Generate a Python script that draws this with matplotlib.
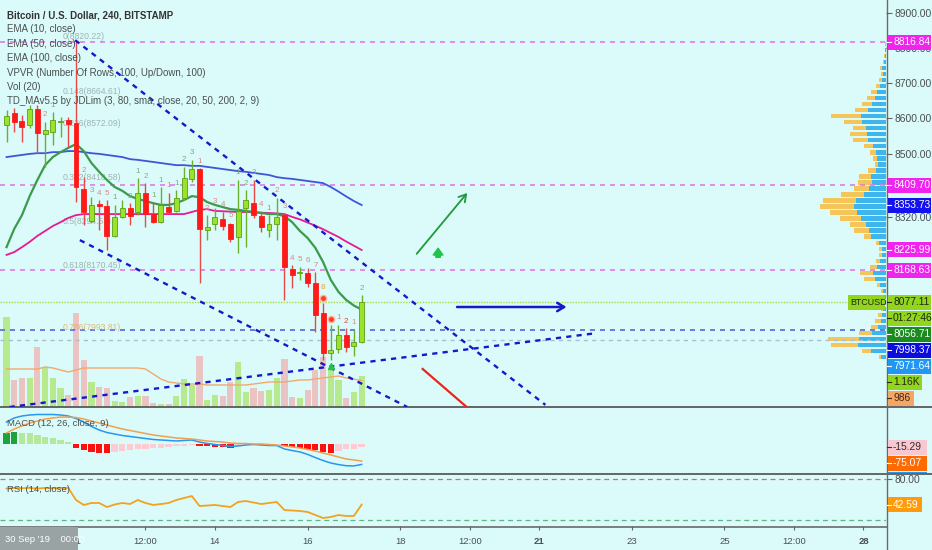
import numpy as np
import matplotlib
matplotlib.use('Agg')
import matplotlib.pyplot as plt
from matplotlib.patches import Rectangle
from matplotlib.lines import Line2D
from matplotlib import font_manager as fm
from matplotlib.transforms import offset_copy

# ---------------- data ----------------
bar_index = list(range(-9, 38))   # 4h bars, 0 = 11 Oct 00:00
opens = [8581, 8615, 8592, 8581, 8626, 8555, 8561, 8590, 8595, 8587,
         8399, 8308, 8356, 8351, 8266, 8320, 8345, 8334, 8388, 8328,
         8305, 8348, 8336, 8374, 8428, 8456, 8283, 8300, 8314, 8300,
         8263, 8345, 8359, 8322, 8283, 8300, 8325, 8172, 8161, 8161,
         8132, 8047, 7933, 7945, 7984, 7953, 7965]
highs = [8624, 8629, 8609, 8638, 8638, 8590, 8618, 8604, 8604, 8820,
         8433, 8376, 8368, 8368, 8354, 8368, 8359, 8430, 8416, 8362,
         8405, 8388, 8396, 8462, 8482, 8458, 8325, 8345, 8334, 8303,
         8425, 8396, 8425, 8334, 8325, 8374, 8331, 8183, 8178, 8175,
         8163, 8075, 8013, 8013, 8004, 7999, 8098]
lows = [8533, 8561, 8533, 8573, 8501, 8462, 8524, 8547, 8519, 8362,
        8297, 8303, 8283, 8226, 8263, 8317, 8297, 8325, 8291, 8303,
        8303, 8331, 8334, 8368, 8419, 8132, 8254, 8283, 8283, 8249,
        8217, 8234, 8317, 8277, 8263, 8254, 8084, 8118, 8141, 8121,
        7993, 7913, 7913, 7933, 7936, 7925, 7962]
closes = [8607, 8590, 8575, 8626, 8558, 8567, 8595, 8591, 8584, 8405,
          8334, 8354, 8352, 8266, 8320, 8345, 8322, 8388, 8328, 8305,
          8354, 8334, 8374, 8430, 8456, 8286, 8291, 8320, 8294, 8257,
          8337, 8368, 8325, 8291, 8300, 8320, 8178, 8155, 8162, 8132,
          8041, 7933, 7942, 7984, 7950, 7965, 8077.11]
volumes = [3366, 1010, 1085, 1085, 2244, 1496, 1085, 711, 449, 3516,
           1758, 935, 748, 711, 224, 187, 374, 411, 411, 150,
           112, 112, 411, 1047, 823, 1907, 262, 449, 411, 935,
           1683, 561, 711, 598, 636, 1085, 1795, 374, 337, 636,
           1384, 1870, 1459, 1010, 337, 561, 1160]
vol_ma = [1421, 1421, 1421, 1421, 1421, 1496, 1459, 1384, 1309, 1384,
          1459, 1459, 1459, 1459, 1459, 1459, 1459, 1459, 1421, 1234,
          1047, 935, 898, 860, 860, 860, 823, 823, 823, 823,
          823, 823, 860, 898, 935, 935, 935, 972, 1010, 1010,
          1047, 1085, 1122, 1159, 1085, 1040, 986]
ema10 = [8234, 8286, 8325, 8379, 8425, 8467, 8490, 8504, 8516, 8527,
         8507, 8473, 8448, 8425, 8405, 8394, 8379, 8371, 8365, 8359,
         8354, 8354, 8359, 8368, 8379, 8376, 8362, 8354, 8348, 8342,
         8340, 8337, 8334, 8331, 8328, 8328, 8322, 8305, 8280, 8260,
         8232, 8192, 8141, 8107, 8084, 8068, 8056.71]
ema50 = [8212, 8220, 8234, 8249, 8266, 8280, 8294, 8305, 8317, 8325,
         8328, 8328, 8328, 8328, 8328, 8328, 8328, 8328, 8328, 8328,
         8328, 8328, 8328, 8328, 8334, 8340, 8342, 8337, 8336, 8335,
         8334, 8334, 8333, 8332, 8331, 8330, 8328, 8320, 8313, 8304,
         8295, 8285, 8274, 8263, 8250, 8238, 8225.99]
ema100 = [8490, 8493, 8496, 8499, 8501, 8501, 8504, 8504, 8507, 8507,
          8504, 8501, 8499, 8496, 8493, 8490, 8484, 8482, 8479, 8476,
          8473, 8470, 8467, 8467, 8465, 8465, 8462, 8459, 8456, 8453,
          8450, 8448, 8445, 8442, 8439, 8433, 8430, 8428, 8425, 8422,
          8419, 8416, 8405, 8392, 8378, 8365, 8353.73]
macd_line = [97.2, 115, 123.8, 128.2, 130.4, 130.4, 130.4, 128.2, 123.8, 112.7,
             97.2, 77.4, 61.9, 50.8, 44.2, 37.6, 33.2, 28.7, 24.3, 19.9,
             17.7, 15.5, 13.3, 15.5, 17.7, 8.8, 2.2, -2.2, -6.6, -11,
             -8.8, -4.4, -2.2, -4.4, -6.6, -6.6, -22, -29, -35, -46,
             -60, -73, -84, -91, -96, -97, -90.36]
macd_signal = [48.6, 66.3, 79.6, 92.8, 101.7, 110.5, 115, 119, 119, 117,
               110.5, 101.7, 92.8, 84, 75, 66.3, 59.7, 53, 46.4, 39.8,
               35.4, 31, 26.5, 24.3, 22, 17.7, 13.3, 11, 8.8, 4.4,
               2.2, 2.2, 0, 0, -2.2, -4.4, -8.8, -13.3, -17.7, -24.3,
               -31, -39.8, -48.6, -57.5, -66.3, -70.7, -75.07]
macd_hist = [48.6, 53, 50.8, 48.6, 39.8, 31, 26.5, 17.7, 11, -17.7,
             -26.5, -35.4, -39.8, -42, -35.4, -31, -26.5, -22, -20, -17.7,
             -15.5, -13.3, -11, -8.8, -6.6, -8.8, -11, -13.3, -14.6, -15.5,
             -11, -6.6, -4.4, -5.3, -3.5, -2.2, -11, -13.3, -15.5, -20,
             -26.5, -35.4, -37.6, -31, -24.3, -20, -15.29]
rsi = [66, 67, 66.5, 67, 66, 67, 66.5, 67, 66.9, 49.3,
       42, 44.9, 44.9, 39, 42.7, 44.9, 43.4, 49.3, 44.9, 42,
       43.4, 44.9, 49.3, 52.2, 55.1, 40.5, 41.2, 42, 40.5, 39,
       46.4, 47.8, 45.6, 43.4, 44.9, 46.4, 34.6, 33.9, 33.2, 31.7,
       27.3, 22.9, 24.4, 27.3, 25.9, 25.9, 42.59]

# visible-range volume profile (top row first)
vp_total = [0.5, 1, 2, 3, 6, 5, 7, 10, 15, 19, 24, 31, 55, 42, 33, 36, 33, 22, 16, 13,
            11, 18, 27, 28, 32, 45, 63, 66, 56, 46, 36, 32, 22, 10, 7, 7, 10, 16, 26, 22,
            9, 5, 3, 3, 5, 8, 11, 15, 27, 58, 55, 24, 7]
vp_up = [0.3, 0.6, 1, 2, 4, 3, 4, 6, 9, 11, 14, 18, 25, 24, 20, 19, 18, 13, 10, 9,
         8, 10, 15, 14, 17, 22, 30, 32, 29, 25, 20, 17, 15, 7, 4, 4, 6, 9, 13, 11,
         6, 3, 2, 2, 3, 4, 5, 8, 14, 27, 28, 15, 5]

fib_levels = ['0', '0.148', '0.236', '0.382', '0.5', '0.618', '0.786']
fib_prices = [8820.22, 8664.61, 8572.09, 8418.58, 8294.53, 8170.45, 7993.81]

hline_magenta = [8816.84, 8409.70, 8168.63]
hline_blue = 7998.37
hline_grey = 7971.64
countdown = '01:27:46'

# user drawings: (bar, price) anchors
trend_lines = [((-0.1, 8822.0), (60.8, 7786.0)),
               ((0.5, 8254.0), (42.9, 7780.0)),
               ((-8.6, 7780.0), (67.5, 7990.0))]
green_arrow = ((43.9, 8209.0), (50.9, 8394.0))
blue_arrow = ((49.0, 8064.0), (63.9, 8064.0))
red_line = ((44.9, 7888.0), (50.6, 7780.0))
up_icon = (46.9, 8217.0)

td_bar = [-4, -3, 1, 2, 3, 4, 5, 7, 8, 9, 10, 11, 12, 13, 14, 15, 16, 17, 18, 19,
          20, 21, 22, 23, 24, 25, 26, 27, 28, 29, 30, 31, 32, 34, 35, 36, 37]
td_text = ['2', '1', '2', '3', '4', '5', '1', '2', '1', '2', '1', '1', '1', '1', '2', '3', '1', '2', '3', '4',
           '5', '1', '2', '3', '4', '1', '2', '3', '4', '5', '6', '7', '8', '1', '2', '1', '2']
td_kind = ['r', 'g', 'r', 'r', 'r', 'r', 'g', 'r', 'g', 'r', 'g', 'g', 'r', 'g', 'g', 'g', 'r', 'r', 'r', 'r',
           'r', 'g', 'g', 'r', 'r', 'g', 'r', 'r', 'r', 'r', 'r', 'r', 'o', 'r', 'R', 'r', 'g']
td_circles = [32, 33]
td_buy = [33]

time_ticks = [0, 9, 18, 30, 42, 51, 60, 72, 84, 93, 102]
time_labels = ['11', '12:00', '14', '16', '18', '12:00', '21', '23', '25', '12:00', '28']
price_ticks = [8900, 8800, 8700, 8600, 8500, 8320]

legend_lines = ['Bitcoin / U.S. Dollar, 240, BITSTAMP', 'EMA (10, close)', 'EMA (50, close)',
                'EMA (100, close)', 'VPVR (Number Of Rows, 100, Up/Down, 100)', 'Vol (20)',
                'TD_MAv5.5 by JDLim (3, 80, sma, close, 20, 50, 200, 2, 9)']

# ---------------- style ----------------
W, H = 932, 550
plt.rcParams['font.family'] = ['Liberation Sans', 'DejaVu Sans']

BG = '#dafbf9'
TXT = '#4a4f4f'
UP, UP_EDGE, DN = '#9be22a', '#5c9e16', '#ff1a1a'
MAG = '#f024ee'
LIME = '#93d51e'
FS_LBL = 7.4

fig = plt.figure(figsize=(W / 100, H / 100), dpi=100, facecolor=BG)


def rect_px(x0, y0, x1, y1):
    return [x0 / W, 1 - y1 / H, (x1 - x0) / W, (y1 - y0) / H]


PR = 886
ax_vol = fig.add_axes(rect_px(0, 0, PR, 407))
ax_vp = fig.add_axes(rect_px(0, 0, PR, 407))
ax = fig.add_axes(rect_px(0, 0, PR, 407))
ax_macd = fig.add_axes(rect_px(0, 408, PR, 473))
ax_rsi = fig.add_axes(rect_px(0, 474, PR, 526))
for z, a in enumerate([ax_vol, ax_vp, ax, ax_macd, ax_rsi]):
    a.set_zorder(z + 1)
    a.patch.set_visible(False)
    for s in a.spines.values():
        s.set_visible(False)

XL = (-9.845, 104.92)
for a in [ax_vol, ax, ax_macd, ax_rsi]:
    a.set_xlim(*XL)
ax.set_ylim(7779.9, 8936.2)
ax_vp.set_ylim(7779.9, 8936.2)
ax_vp.set_xlim(PR, 0)
ax_vol.set_ylim(0, 15222)
ax_macd.set_ylim(-128.2, 159.1)
ax_rsi.set_ylim(11.22, 87.35)

x = np.array(bar_index)
o, h, l, c = map(np.array, (opens, highs, lows, closes))
up = c >= o

# volume
ax_vol.bar(x, volumes, width=0.8, color=np.where(up, '#b7ea8f', '#eac3c3'), lw=0)
ax_vol.plot(x, vol_ma, color='#f2a86e', lw=1)
ax_vol.set_xticks([]); ax_vol.set_yticks([])

# volume profile
n = len(vp_total)
vp_hi, vp_lo = max(highs), min(lows)
edges = np.linspace(vp_hi, vp_lo, n + 1)
centers = (edges[:-1] + edges[1:]) / 2
rh = (vp_hi - vp_lo) / n * 0.72
vt, vu = np.array(vp_total, float), np.array(vp_up, float)
ax_vp.barh(centers, vu, height=rh, left=0, color='#3fb5ee', lw=0)
ax_vp.barh(centers, vt - vu, height=rh, left=vu, color='#f3c55a', lw=0)
ax_vp.set_xticks([]); ax_vp.set_yticks([])

# horizontal lines
for p in hline_magenta:
    ax.axhline(p, color='#de7de6', lw=1.2, ls=(0, (3, 3)), zorder=1)
ax.axhline(hline_blue, color='#5566d6', lw=1.2, ls=(0, (3, 3)), zorder=1)
ax.axhline(hline_grey, color='#a9c0d4', lw=1.0, ls=(0, (3, 3)), zorder=1)
ax.axhline(closes[-1], color='#a8d94a', lw=1.0, ls=(0, (1, 1)), zorder=1)

# moving averages
ax.plot(x, ema100, color='#3f55d9', lw=1.3, zorder=3)
ax.plot(x, ema50, color='#e81a93', lw=1.3, zorder=3)
ax.plot(x, ema10, color='#3c9a4c', lw=1.6, zorder=3)

# candles
ax.vlines(x, l, h, colors=np.where(up, '#6bb02a', '#e84a4a'), lw=1, zorder=4)
body = np.maximum(np.abs(c - o), 2.5)
ax.bar(x, body, bottom=np.minimum(o, c), width=0.64, color=np.where(up, UP, DN),
       edgecolor=np.where(up, UP_EDGE, DN), lw=0.6, zorder=5)

# fib labels
for lv, fp in zip(fib_levels, fib_prices):
    col = '#e0a452' if lv == '0.786' else '#8c9c9c'
    ax.text(-1.7, fp, f'{lv}({fp:.2f})', fontsize=6.2, color=col, alpha=0.75,
            va='bottom', ha='left', zorder=2)

# drawings
for (x0, y0), (x1, y1) in trend_lines:
    ax.plot([x0, x1], [y0, y1], color='#1717cc', lw=1.7, ls=(0, (2.2, 2.2)), zorder=6)
ax.annotate('', xy=green_arrow[1], xytext=green_arrow[0],
            arrowprops=dict(arrowstyle='->,head_length=0.5,head_width=0.3', color='#1e9a3a', lw=1.3), zorder=6)
ax.annotate('', xy=blue_arrow[1], xytext=blue_arrow[0],
            arrowprops=dict(arrowstyle='->,head_length=0.5,head_width=0.3', color='#1818c8', lw=1.8), zorder=6)
ax.plot([red_line[0][0], red_line[1][0]], [red_line[0][1], red_line[1][1]], color='#e8261c', lw=1.6, zorder=6)
ax.annotate('', xy=(up_icon[0], up_icon[1] + 14), xytext=(up_icon[0], up_icon[1] - 12),
            arrowprops=dict(arrowstyle='simple,head_width=1.0,head_length=0.7,tail_width=0.45',
                            color='#22c24e', mutation_scale=7, shrinkA=0, shrinkB=0), zorder=6)

# TD sequential counts
tdcol = {'g': '#7aac7a', 'r': '#d48a8a', 'o': '#e8a040', 'R': '#e83a3a'}
for b, t, k in zip(td_bar, td_text, td_kind):
    hi = highs[b - bar_index[0]]
    off = 9 if b in td_circles else 2.5
    ax.annotate(t, (b, hi), xytext=(0, off), textcoords='offset points', ha='center',
                va='bottom', fontsize=5.8, color=tdcol[k], zorder=7)
circ_tr = offset_copy(ax.transData, fig=fig, x=0, y=4, units='points')
for b in td_circles:
    ax.plot(b, highs[b - bar_index[0]], 'o', ms=4.5, mfc='#ff3a2a', mec='#ffb49a', mew=1,
            transform=circ_tr, zorder=7)
buy_tr = offset_copy(ax.transData, fig=fig, x=0, y=-4, units='points')
for b in td_buy:
    ax.plot(b, lows[b - bar_index[0]], '^', ms=4, color='#22c24e', transform=buy_tr, zorder=7)

# price axis
ax.set_xticks([])
ax.yaxis.tick_right()
ax.set_yticks(price_ticks)
ax.set_yticklabels([f'{p:.2f}' for p in price_ticks])
ax.tick_params(axis='y', direction='out', length=4, width=0.8, color='#666', labelcolor=TXT,
               labelsize=FS_LBL, pad=2)

# MACD
hist = np.array(macd_hist)
prev = np.concatenate([[hist[0] - 1], hist[:-1]])
hcol = np.where(hist >= 0, np.where(hist >= prev, '#1fa23c', '#b5e89a'),
                np.where(hist < prev, '#ff1010', '#ffcbd3'))
ax_macd.bar(x, hist, width=0.82, color=hcol, lw=0)
ax_macd.plot(x, macd_line, color='#2a96f0', lw=1.1)
ax_macd.plot(x, macd_signal, color='#f0a050', lw=1.1)
ax_macd.set_xticks([]); ax_macd.set_yticks([])

# RSI
ax_rsi.plot(x, rsi, color='#f4a21e', lw=1.3)
ax_rsi.axhline(80, color='#e06565', lw=0.9, ls=(0, (4, 3)))
ax_rsi.axhline(20, color='#5fb585', lw=0.9, ls=(0, (4, 3)))
ax_rsi.yaxis.tick_right()
ax_rsi.set_yticks([80])
ax_rsi.set_yticklabels(['80.00'])
ax_rsi.tick_params(axis='y', direction='out', length=4, color='#666', labelcolor=TXT,
                   labelsize=FS_LBL, pad=2)
ax_rsi.set_xticks(time_ticks)
ax_rsi.set_xticklabels(time_labels)
ax_rsi.tick_params(axis='x', direction='out', length=3, color='#666', labelcolor=TXT,
                   labelsize=6.8, pad=5)
for lab in ax_rsi.get_xticklabels():
    if lab.get_text() in ('21', '28'):
        lab.set_fontweight('bold')

# separators
fig.add_artist(Line2D([0, 1], [1 - 407 / H] * 2, transform=fig.transFigure, color='#5a5a5a', lw=1.3))
fig.add_artist(Line2D([0, 1], [1 - 473.5 / H] * 2, transform=fig.transFigure, color='#5a5a5a', lw=1.3))
fig.add_artist(Line2D([0, 887 / W], [1 - 526.5 / H] * 2, transform=fig.transFigure, color='#6a6a6a', lw=1.2))
fig.add_artist(Line2D([887 / W] * 2, [0, 1], transform=fig.transFigure, color='#6a6a6a', lw=1.0))

# legends
for k, t in enumerate(legend_lines):
    fig.text(7 / W, 1 - (15 + 14.4 * k) / H, t, fontsize=7.0, color='#333333' if k == 0 else TXT,
             va='center', ha='left', zorder=8, fontweight='bold' if k == 0 else 'normal')
fig.text(7 / W, 1 - 423 / H, 'MACD (12, 26, close, 9)', fontsize=6.8, color=TXT, va='center', zorder=8)
fig.text(7 / W, 1 - 489 / H, 'RSI (14, close)', fontsize=6.8, color=TXT, va='center', zorder=8)

# time crosshair box
fig.add_artist(Rectangle((0, 0), 78 / W, 23 / H, transform=fig.transFigure, fc='#9aa3a3', ec='none', zorder=9))
fig.text(5 / W, 1 - 539 / H, "30 Sep '19    00:00", fontsize=6.8, color='white', va='center', zorder=10)


def y_of(a, v):
    return H - a.transData.transform((0, v))[1]


def box(y, text, bg, fg, x0=887.5, x1=931, hgt=15, clip=None):
    top, bot = y - hgt / 2, y + hgt / 2
    if clip is not None:
        bot = min(bot, clip)
    fig.add_artist(Rectangle((x0 / W, 1 - bot / H), (x1 - x0) / W, (bot - top) / H,
                             transform=fig.transFigure, fc=bg, ec='none', zorder=9))
    if clip is None or y < clip - 4:
        fig.add_artist(Line2D([887 / W, 891 / W], [1 - y / H] * 2, transform=fig.transFigure,
                              color=fg, lw=0.8, zorder=10))
        fig.text((x0 + 5.5) / W, 1 - y / H, text, fontsize=FS_LBL, color=fg, va='center',
                 ha='left', zorder=10)


def stack(items, gap=16):
    prev = -1e9
    out = []
    for yy, *rest in sorted(items, key=lambda r: r[0]):
        yy = max(yy, prev + gap)
        out.append((yy, *rest))
        prev = yy
    return out


py = y_of(ax, closes[-1])
main_items = [(y_of(ax, hline_magenta[0]), f'{hline_magenta[0]:.2f}', MAG, 'white', 931),
              (y_of(ax, hline_magenta[1]), f'{hline_magenta[1]:.2f}', MAG, 'white', 931),
              (y_of(ax, ema100[-1]), f'{ema100[-1]:.2f}', '#1212ee', 'white', 931),
              (y_of(ax, ema50[-1]), f'{ema50[-1]:.2f}', MAG, 'white', 931),
              (y_of(ax, hline_magenta[2]), f'{hline_magenta[2]:.2f}', MAG, 'white', 931),
              (py, f'{closes[-1]:.2f}', LIME, '#1c2a10', 931),
              (py + 0.1, countdown, LIME, '#1c2a10', 931),
              (y_of(ax, ema10[-1]), f'{ema10[-1]:.2f}', '#1b8a1f', 'white', 931),
              (y_of(ax, hline_blue), f'{hline_blue:.2f}', '#0c0cdc', 'white', 931),
              (y_of(ax, hline_grey), f'{hline_grey:.2f}', '#2196f3', 'white', 931),
              (y_of(ax_vol, volumes[-1]), f'{volumes[-1] / 1000:.2f}K', LIME, '#1c2a10', 922),
              (y_of(ax_vol, vol_ma[-1]), f'{vol_ma[-1]:.0f}', '#f6a565', '#3a2a1a', 914)]
for yy, t, bg, fg, x1 in stack(main_items):
    box(yy, t, bg, fg, x1=x1)
    if t == f'{closes[-1]:.2f}':
        fig.add_artist(Rectangle((848 / W, 1 - (yy + 7.5) / H), 37 / W, 15 / H,
                                 transform=fig.transFigure, fc=LIME, ec='none', zorder=9))
        fig.text(850.5 / W, 1 - yy / H, 'BTCUSD', fontsize=6.4, color='#1c2a10', va='center', zorder=10)

macd_items = [(y_of(ax_macd, macd_hist[-1]), f'{macd_hist[-1]:.2f}', '#f8c8d2', '#3a2a2a', 927),
              (y_of(ax_macd, macd_signal[-1]), f'{macd_signal[-1]:.2f}', '#ff6a00', 'white', 927),
              (y_of(ax_macd, macd_line[-1]), f'{macd_line[-1]:.2f}', '#2196f3', 'white', 927)]
for yy, t, bg, fg, x1 in stack(macd_items):
    box(yy, t, bg, fg, x1=x1, clip=473)

box(y_of(ax_rsi, rsi[-1]), f'{rsi[-1]:.2f}', '#ff9a0a', 'white', x1=922)

fig.savefig('out.png', dpi=100, facecolor=BG)
